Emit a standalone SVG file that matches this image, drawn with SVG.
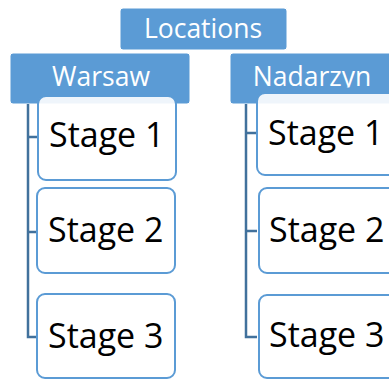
<svg xmlns="http://www.w3.org/2000/svg" width="389" height="380" viewBox="0 0 389 380">
<style>
.hdr{fill:#5B9BD5;stroke:#fff;stroke-width:1}
.htx{fill:#fff;font-family:"Open Sans","Liberation Sans",sans-serif;font-size:26.5px;text-anchor:middle}
.stg{fill:#fff;fill-opacity:0.9;stroke:#5B9BD5;stroke-width:2}
.stx{fill:#000;font-family:"Open Sans","Liberation Sans",sans-serif;font-size:34px}
.con{fill:none;stroke:#41719C;stroke-width:2.5}
</style>
<defs><clipPath id="nclip"><rect x="230" y="53" width="180" height="34.5"/></clipPath></defs>
<rect width="389" height="380" fill="#fff"/>
<g id="locations"><rect class="hdr" x="120" y="8" width="167" height="42" rx="3"/><text class="htx" x="203" y="38">Locations</text></g>
<g id="warsaw"><rect class="hdr" x="10" y="53" width="180" height="51" rx="3"/><text class="htx" x="101" y="86">Warsaw</text></g>
<g id="nadarzyn"><rect class="hdr" x="230" y="53" width="180" height="51" rx="3"/><text class="htx" x="312" y="86" clip-path="url(#nclip)">Nadarzyn</text></g>
<g id="connectors">
<path class="con" d="M28 104V337H38M28 137H38M28 232H38"/>
<path class="con" d="M246 104V337H257M246 133H257M246 231H257"/>
</g>
<g id="w-stage1"><rect class="stg" x="38" y="96" width="138" height="84" rx="8"/><text class="stx" x="49" y="147">Stage 1</text></g>
<g id="w-stage2"><rect class="stg" x="37" y="188" width="138" height="85" rx="8"/><text class="stx" x="48" y="242">Stage 2</text></g>
<g id="w-stage3"><rect class="stg" x="37" y="294" width="138" height="84" rx="8"/><text class="stx" x="48" y="348">Stage 3</text></g>
<g id="n-stage1"><rect class="stg" x="257" y="93" width="150" height="82" rx="8"/><text class="stx" x="268" y="145">Stage 1</text></g>
<g id="n-stage2"><rect class="stg" x="259" y="188" width="150" height="85" rx="8"/><text class="stx" x="269" y="242">Stage 2</text></g>
<g id="n-stage3"><rect class="stg" x="259" y="295" width="150" height="83" rx="8"/><text class="stx" x="269" y="347">Stage 3</text></g>
</svg>
